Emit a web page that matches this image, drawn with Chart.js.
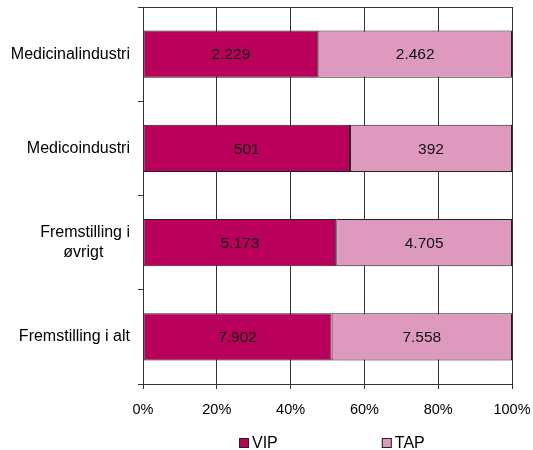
<!DOCTYPE html>
<html lang="da">
<head>
<meta charset="utf-8">
<title>VIP og TAP i fremstillingserhvervene</title>
<script src="https://cdn.jsdelivr.net/npm/chart.js@4/dist/chart.umd.min.js"></script>
<style>
  html, body { margin: 0; padding: 0; background: #fff; }
  #wrap { width: 533px; height: 450px; }
</style>
</head>
<body>
<div id="wrap"><canvas id="chart" width="533" height="450"></canvas></div>
<script>
// Branches (top to bottom)
const categories = [
  'Medicinalindustri',
  'Medicoindustri',
  ['Fremstilling i', '\u00f8vrigt      '],
  'Fremstilling i alt'
];
// Headcounts per staff group
const vipCounts = [2229, 501, 5173, 7902];
const tapCounts = [2462, 392, 4705, 7558];
const seriesNames = ['VIP', 'TAP'];
const seriesColors = ['#B9005B', '#DE9ABE'];
const xTicks = [0, 0.2, 0.4, 0.6, 0.8, 1];

const FONT = "'Liberation Sans', Arial, sans-serif";
const LINE = '#333333';

// 100 % stacking: each bar segment is its group's share of the branch total
const share = (a, b) => a.map((v, i) => v / (v + b[i]));
const fmt = n => String(n).replace(/\B(?=(\d{3})+(?!\d))/g, '.');

// Keep the plot area exactly where the layout padding puts it
const noEdgePadding = scale => {
  scale.paddingTop = 0;
  scale.paddingBottom = 0;
  scale.paddingLeft = 0;
  scale.paddingRight = 0;
};

// Counts written in the middle of each segment
const segmentLabels = {
  id: 'segmentLabels',
  afterDatasetsDraw(chart) {
    const ctx = chart.ctx;
    ctx.save();
    ctx.font = '15.5px ' + FONT;
    ctx.fillStyle = '#111';
    ctx.textAlign = 'center';
    ctx.textBaseline = 'middle';
    chart.data.datasets.forEach((ds, di) => {
      chart.getDatasetMeta(di).data.forEach((bar, i) => {
        const p = bar.getProps(['x', 'y', 'base'], true);
        ctx.fillText(fmt(ds.counts[i]), (p.x + p.base) / 2, p.y + 1);
      });
    });
    ctx.restore();
  }
};

// Legend row under the axis: small outlined squares followed by the names
const bottomLegend = {
  id: 'bottomLegend',
  afterDraw(chart) {
    const ctx = chart.ctx;
    const box = 10, gapText = 3, gapItem = 104;
    ctx.save();
    ctx.font = '16px ' + FONT;
    const items = chart.data.datasets.map(ds => ({
      label: ds.label, color: ds.backgroundColor,
      w: box + gapText + ctx.measureText(ds.label).width
    }));
    const total = items.reduce((s, it) => s + it.w, 0) + gapItem * (items.length - 1);
    const ca = chart.chartArea;
    let x = Math.round((ca.left + ca.right) / 2 - total / 2 + 4);
    const y = 443;
    items.forEach(it => {
      ctx.fillStyle = it.color;
      ctx.fillRect(x, y - box / 2, box, box);
      ctx.strokeStyle = '#222';
      ctx.lineWidth = 1;
      ctx.strokeRect(x + 0.5, y - box / 2 + 0.5, box - 1, box - 1);
      ctx.fillStyle = '#000';
      ctx.textAlign = 'left';
      ctx.textBaseline = 'middle';
      ctx.fillText(it.label, x + box + gapText, y + 1);
      x += it.w + gapItem;
    });
    ctx.restore();
  }
};

new Chart(document.getElementById('chart'), {
  type: 'bar',
  data: {
    labels: categories,
    datasets: [
      {
        label: seriesNames[0],
        data: share(vipCounts, tapCounts),
        counts: vipCounts,
        backgroundColor: seriesColors[0]
      },
      {
        label: seriesNames[1],
        data: share(tapCounts, vipCounts),
        counts: tapCounts,
        backgroundColor: seriesColors[1]
      }
    ]
  },
  options: {
    indexAxis: 'y',
    responsive: false,
    animation: false,
    devicePixelRatio: 1,
    layout: { padding: { top: 7, right: 21, bottom: 26, left: 0 } },
    datasets: {
      bar: {
        barPercentage: 0.5,
        categoryPercentage: 1.0,
        borderColor: '#222',
        borderWidth: 1,
        borderSkipped: false
      }
    },
    plugins: {
      legend: { display: false },
      tooltip: { enabled: false }
    },
    scales: {
      x: {
        stacked: true,
        min: 0,
        max: 1,
        afterBuildTicks: scale => { scale.ticks = xTicks.map(v => ({ value: v })); },
        afterFit: scale => { scale.height = 40; noEdgePadding(scale); },
        ticks: {
          color: '#000',
          font: { family: FONT, size: 14.5 },
          padding: 12,
          maxRotation: 0,
          callback: v => Math.round(v * 100) + '%'
        },
        grid: {
          color: LINE,
          tickColor: LINE,
          tickLength: 5,
          lineWidth: 1
        },
        border: { color: LINE, width: 1 }
      },
      y: {
        stacked: true,
        afterFit: scale => { scale.width = 143; noEdgePadding(scale); },
        ticks: {
          color: '#000',
          font: { family: FONT, size: 16, lineHeight: 1.3 },
          padding: 8
        },
        grid: {
          offset: true,
          drawOnChartArea: true,
          color: c => (c.index === 0 ? LINE : 'rgba(0,0,0,0)'),
          tickColor: LINE,
          tickLength: 5
        },
        border: { color: LINE, width: 1 }
      }
    }
  },
  plugins: [segmentLabels, bottomLegend]
});
</script>
</body>
</html>
